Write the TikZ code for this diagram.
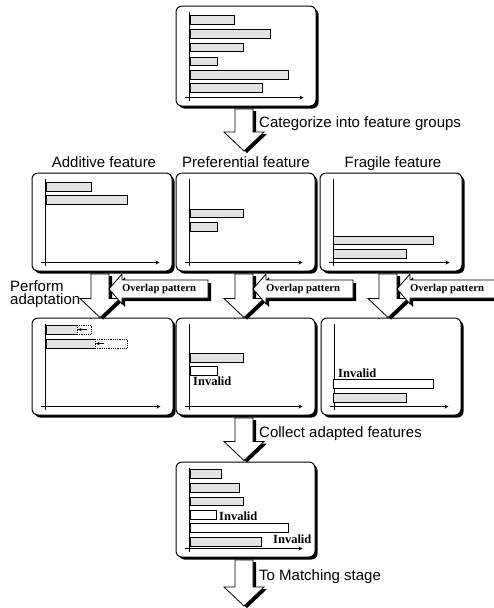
\documentclass[tikz,border=0pt]{standalone}
\usepackage{fontspec}
\setmainfont{Liberation Serif}
\setsansfont{Liberation Sans}
\usetikzlibrary{calc,shadows}

\tikzset{
  panel/.style={draw, fill=white, line width=1pt, rounded corners=6pt, inner sep=0pt,
    drop shadow={fill=black, opacity=1, shadow xshift=2.5pt, shadow yshift=-2.5pt}},
  featbar/.style={draw, line width=0.8pt, fill=black!11},
  voidbar/.style={draw, line width=0.8pt, fill=white},
  axis/.style={line width=0.8pt},
  blockshadow/.style={fill=black},
  blockbody/.style={draw, fill=white, line width=0.8pt},
  lbl/.style={font=\sffamily\fontsize{15}{13.5}\selectfont, inner sep=0pt},
  tag/.style={font=\rmfamily\bfseries\fontsize{12.5}{14}\selectfont, inner sep=0pt},
  ovtext/.style={font=\rmfamily\bfseries\fontsize{10.7}{12}\selectfont, inner sep=0pt},
}

% axes of one panel
\newcommand{\panelaxes}[1]{%
  \draw[axis] ($(#1.north west)+(14,6)$) -- ($(#1.south west)+(14,-6)$);
  \draw[axis,-stealth] ($(#1.south west)+(9,-9)$) -- ($(#1.south east)+(-13,-9)$);
}

% big white arrow going down, #1 start, #2 tip
\newcommand{\flowarrow}[2]{%
  \foreach \dx/\dy/\sty in {3pt/2pt/blockshadow,0pt/0pt/blockbody}{
    \path[\sty] let \p1=#1, \p2=#2 in
      (\x1-9pt+\dx,\y1-2.5pt-\dy) -- (\x1-9pt+\dx,\y2+19pt-\dy)
      -- (\x1-20pt+\dx,\y2+19pt-\dy) -- (\x1+\dx,\y2-\dy)
      -- (\x1+20pt+\dx,\y2+19pt-\dy) -- (\x1+9pt+\dx,\y2+19pt-\dy)
      -- (\x1+9pt+\dx,\y1-2.5pt-\dy) -- cycle;
  }
}

% arrow pointing left, #1 tip, #2 length
\newcommand{\overlaparrow}[2]{%
  \foreach \dx/\dy/\sty in {3pt/3pt/blockshadow,0pt/0pt/blockbody}{
    \path[\sty] let \p1=#1 in
      (\x1+\dx,\y1-\dy) -- (\x1+13pt+\dx,\y1+15pt-\dy)
      -- (\x1+13pt+\dx,\y1+9pt-\dy) -- (\x1+#2+\dx,\y1+9pt-\dy)
      -- (\x1+#2+\dx,\y1-9pt-\dy) -- (\x1+13pt+\dx,\y1-9pt-\dy)
      -- (\x1+13pt+\dx,\y1-15pt-\dy) -- cycle;
  }
}

\begin{document}
\begin{tikzpicture}[x=1pt,y=-1pt]
  \useasboundingbox (0,0) rectangle (494,608);
  \clip (0,0) rectangle (494,608);

  % panels
  \node[panel, minimum width=140pt, minimum height=100pt] (top) at (246,56) {};
  \node[panel, minimum width=140pt, minimum height=98pt] (add) at (102,222) {};
  \node[panel, minimum width=139pt, minimum height=98pt] (pref) at (245.5,222) {};
  \node[panel, minimum width=142pt, minimum height=98pt] (frag) at (391,222) {};
  \node[panel, minimum width=141pt, minimum height=97pt] (add2) at (102.5,366.5) {};
  \node[panel, minimum width=139pt, minimum height=97pt] (pref2) at (245.5,366.5) {};
  \node[panel, minimum width=140pt, minimum height=97pt] (frag2) at (391,366.5) {};
  \node[panel, minimum width=139pt, minimum height=95pt] (final) at (245.5,509.5) {};

  \foreach \p in {top,add,pref,frag,add2,pref2,frag2,final}
    \panelaxes{\p};

  % input features
  \draw[featbar] (190,15) rectangle (234,24);
  \draw[featbar] (190,29) rectangle (270,38);
  \draw[featbar] (190,43) rectangle (243,51);
  \draw[featbar] (190,57) rectangle (217,65);
  \draw[featbar] (190,70) rectangle (288,79);
  \draw[featbar] (190,83) rectangle (262,92);

  % feature groups
  \draw[featbar] (46,182) rectangle (91,191);
  \draw[featbar] (46,195) rectangle (127,204);
  \draw[featbar] (190,209) rectangle (243,217);
  \draw[featbar] (190,222) rectangle (217,231);
  \draw[featbar] (333,236) rectangle (433,244);
  \draw[featbar] (333,249) rectangle (406,258);

  % adapted groups
  \draw[featbar] (46,325) rectangle (77,334);
  \draw[voidbar,densely dotted] (77,325) rectangle (91,334);
  \draw[-stealth,line width=0.6pt] (87,329.5) -- (78,329.5);
  \draw[featbar] (46,339) rectangle (95,348);
  \draw[voidbar,densely dotted] (95,339) rectangle (127,348);
  \draw[-stealth,line width=0.6pt] (104,343.5) -- (96,343.5);

  \draw[featbar] (190,353) rectangle (243,362);
  \draw[voidbar] (190,366) rectangle (217,375);
  \node[tag, anchor=west] (inv1) at (193,381) {Invalid};

  \node[tag, anchor=west] (inv2) at (338,373) {Invalid};
  \draw[voidbar] (333,379) rectangle (433,388);
  \draw[featbar] (333,393) rectangle (406,402);

  % collected features
  \draw[featbar] (190,469) rectangle (221,478);
  \draw[featbar] (190,483) rectangle (239,492);
  \draw[featbar] (190,497) rectangle (243,505);
  \draw[voidbar] (190,510) rectangle (216,519);
  \node[tag, anchor=west] (inv3) at (219,516) {Invalid};
  \draw[voidbar] (190,523) rectangle (288,532);
  \draw[featbar] (190,537) rectangle (261,546);
  \node[tag, anchor=west] (inv4) at (273,539) {Invalid};

  % flow
  \coordinate (split) at (244,151);
  \coordinate (out) at (244,606);
  \flowarrow{($(top.south)+(-2,0)$)}{(split)}
  \flowarrow{($(add.south)+(-2,0)$)}{(add2.north)}
  \flowarrow{($(pref.south)+(-1.5,0)$)}{(pref2.north)}
  \flowarrow{($(frag.south)+(-3,0)$)}{(frag2.north)}
  \flowarrow{($(pref2.south)+(-1.5,0)$)}{($(final.north)+(0,-1)$)}
  \flowarrow{($(final.south)+(-1.5,0)$)}{(out)}

  \coordinate (tipa) at (109,289);
  \coordinate (tipp) at (253,289);
  \coordinate (tipf) at (397,289);
  \overlaparrow{(tipa)}{99pt}
  \overlaparrow{(tipp)}{100pt}
  \overlaparrow{(tipf)}{110pt}
  \node[ovtext] (ova) at ($(tipa)+(50,0)$) {Overlap pattern};
  \node[ovtext] (ovp) at ($(tipp)+(50,0)$) {Overlap pattern};
  \node[ovtext] (ovf) at ($(tipf)+(50,0)$) {Overlap pattern};

  % labels
  \node[lbl, anchor=base west] (cat) at (259,127) {Categorize into feature groups};
  \node[lbl, anchor=base] (tadd) at (104,167) {Additive feature};
  \node[lbl, anchor=base] (tpref) at (246,167) {Preferential feature};
  \node[lbl, anchor=base] (tfrag) at (393,167) {Fragile feature};
  \node[lbl, anchor=north west, align=left] (perf) at (10,280) {Perform\\adaptation};
  \node[lbl, anchor=base west] (coll) at (259,437) {Collect adapted features};
  \node[lbl, anchor=base west] (tomatch) at (259,580) {To Matching stage};
\end{tikzpicture}
\end{document}
